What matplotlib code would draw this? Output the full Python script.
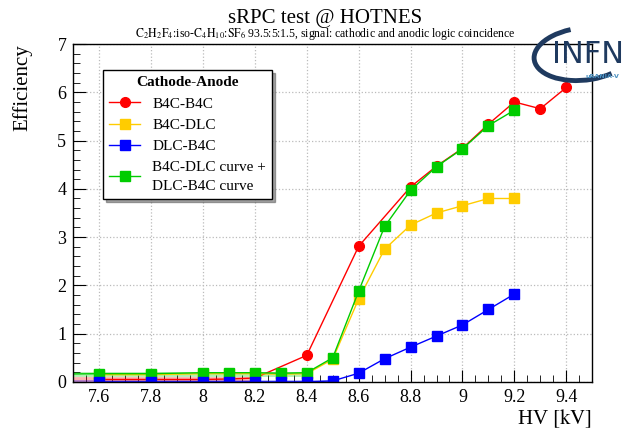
import numpy as np
import matplotlib.pyplot as plt
from matplotlib.patches import Arc
from matplotlib.ticker import MultipleLocator

plt.rcParams['font.family'] = ['Liberation Serif', 'DejaVu Serif']
plt.rcParams['mathtext.fontset'] = 'stix'

# B4C-B4C (red)
hv_red = [7.6, 7.8, 8.0, 8.1, 8.2, 8.4, 8.6, 8.8, 8.9, 9.0, 9.1, 9.2, 9.3, 9.4]
eff_red = [0.05, 0.05, 0.05, 0.06, 0.08, 0.55, 2.81, 4.04, 4.47, 4.84, 5.34, 5.80, 5.66, 6.10]
# B4C-DLC (yellow)
hv_yel = [7.6, 7.8, 8.0, 8.1, 8.2, 8.3, 8.4, 8.5, 8.6, 8.7, 8.8, 8.9, 9.0, 9.1, 9.2]
eff_yel = [0.15, 0.15, 0.17, 0.17, 0.17, 0.16, 0.17, 0.47, 1.72, 2.75, 3.25, 3.50, 3.65, 3.80, 3.80]
# DLC-B4C (blue)
hv_blu = [7.6, 7.8, 8.0, 8.1, 8.2, 8.3, 8.4, 8.5, 8.6, 8.7, 8.8, 8.9, 9.0, 9.1, 9.2]
eff_blu = [0.0, 0.0, 0.0, 0.0, 0.0, 0.0, 0.0, 0.02, 0.18, 0.48, 0.72, 0.95, 1.18, 1.50, 1.82]
# B4C-DLC curve + DLC-B4C curve (green)
hv_grn = [7.4, 7.6, 7.8, 8.0, 8.1, 8.2, 8.3, 8.4, 8.5, 8.6, 8.7, 8.8, 8.9, 9.0, 9.1, 9.2]
eff_grn = [0.16, 0.17, 0.17, 0.19, 0.19, 0.19, 0.18, 0.19, 0.50, 1.88, 3.22, 3.97, 4.46, 4.83, 5.31, 5.63]

# plateau (noise) fits: level, x range
fit_red = (0.05, 7.5, 8.22)
fit_grn = (0.17, 7.5, 8.42)
fit_blu = (0.0, 7.5, 8.5)

fig = plt.figure(figsize=(6.26, 4.32), dpi=100)
ax = fig.add_axes([0.117, 0.116, 0.829, 0.782])

for (lvl, x0, x1), c in [(fit_grn, '#00cc00'), (fit_red, '#ff0000'), (fit_blu, '#0000ff')]:
    ax.plot([x0, x1], [lvl, lvl], color=c, lw=3.5, alpha=0.3, solid_capstyle='butt')

ax.plot(hv_red, eff_red, '-o', color='#ff0000', ms=7, lw=1, label='B4C-B4C')
ax.plot(hv_yel, eff_yel, '-s', color='#ffcc00', ms=7, lw=1, label='B4C-DLC')
ax.plot(hv_grn, eff_grn, '-s', color='#00cc00', ms=7, lw=1,
        label='B4C-DLC curve +\nDLC-B4C curve')
ax.plot(hv_blu, eff_blu, '-s', color='#0000ff', ms=7, lw=1, label='DLC-B4C')

ax.set_xlim(7.5, 9.5)
ax.set_ylim(0, 7)
ax.xaxis.set_minor_locator(MultipleLocator(0.05))
ax.yaxis.set_major_locator(MultipleLocator(1))
ax.yaxis.set_minor_locator(MultipleLocator(0.2))
ax.set_xticks(np.arange(7.6, 9.41, 0.2))
ax.set_xticklabels(['7.6', '7.8', '8', '8.2', '8.4', '8.6', '8.8', '9', '9.2', '9.4'])
ax.tick_params(which='major', direction='in', length=9, labelsize=13, pad=5)
ax.tick_params(which='minor', direction='in', length=5)
ax.grid(True, which='major', color='#bbbbbb', ls=':', lw=0.9)
for s in ax.spines.values():
    s.set_linewidth(1)

ax.set_ylabel('Efficiency', fontsize=15, loc='top', labelpad=18)
ax.set_xlabel('HV $\\left[\\mathrm{kV}\\right]$', fontsize=15, loc='right', labelpad=1)

fig.text(0.52, 0.958, 'sRPC test @ HOTNES', ha='center', va='center', fontsize=15)
fig.text(0.52, 0.921,
         '$\\mathrm{C_2H_2F_4}$:iso-$\\mathrm{C_4H_{10}}$:$\\mathrm{SF_6}$ 93.5:5:1.5, '
         'signal: cathodic and anodic logic coincidence',
         ha='center', va='center', fontsize=8.5)

# legend in the same order as reference
h, l = ax.get_legend_handles_labels()
order = [0, 1, 3, 2]
leg = ax.legend([h[i] for i in order], [l[i] for i in order],
                title='Cathode-Anode', loc='upper left', bbox_to_anchor=(0.058, 0.923),
                borderaxespad=0, fontsize=11, title_fontproperties={'weight': 'bold', 'size': 11},
                frameon=True, fancybox=False, shadow=True, edgecolor='black',
                handlelength=2.0, borderpad=0.4, labelspacing=0.5)
leg.get_frame().set_linewidth(1)
leg.get_texts()[-1].set_linespacing(1.6)

# INFN logo, roughly
fig.text(0.94, 0.873, 'INFN', color='#1f3a5f', fontsize=22, ha='center', va='center',
         family='DejaVu Sans')
fig.text(0.962, 0.822, 'uRANIA-V', color='#4a90c0', fontsize=4.5, ha='center', va='center',
         family='DejaVu Sans', weight='bold')
fig.patches.append(Arc((0.932, 0.875), 0.16, 0.12, angle=15, theta1=95, theta2=300,
                       transform=fig.transFigure, color='#1f3a5f', lw=3.5))

fig.savefig('out.png', dpi=100)
